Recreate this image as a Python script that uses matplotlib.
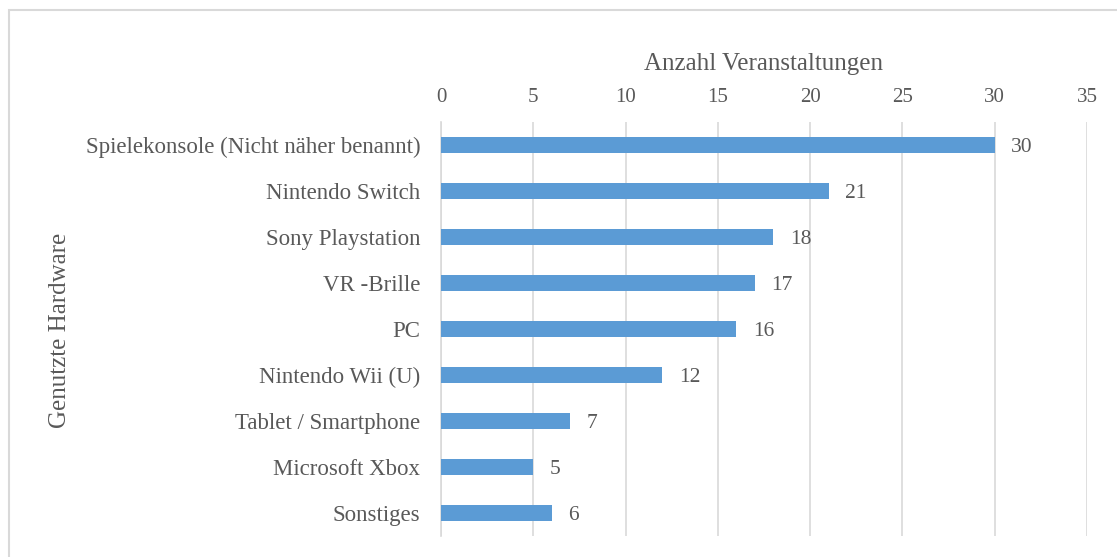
import matplotlib.pyplot as plt
from matplotlib.patches import Rectangle

# data
categories = ['Spielekonsole (Nicht näher benannt)', 'Nintendo Switch', 'Sony Playstation',
              'VR -Brille', 'PC', 'Nintendo Wii (U)', 'Tablet / Smartphone',
              'Microsoft Xbox', 'Sonstiges']
counts = [30, 21, 18, 17, 16, 12, 7, 5, 6]
x_ticks = [0, 5, 10, 15, 20, 25, 30, 35]

text_col = '#595959'
grid_col = '#D9D9D9'
bar_col = '#5B9BD5'

plt.rcParams['font.family'] = ['Liberation Serif', 'DejaVu Serif']

fig = plt.figure(figsize=(11.17, 5.57), dpi=100)
W, H = 1117, 557

# outer chart frame (right/bottom edges run off the image)
fig.patches.append(Rectangle((9 / W, -0.1), 1.2, 1 - 10 / H + 0.1,
                             transform=fig.transFigure, fill=False,
                             edgecolor=grid_col, linewidth=1.5))

# plot area in pixels: x 441..1087, y 122..536
ax = fig.add_axes([441 / W, 1 - 536 / H, (1087 - 441) / W, (536 - 122) / H])

y = list(range(len(categories)))
ax.barh(y, counts, height=0.35, color=bar_col, zorder=3)
ax.set_ylim(len(categories) - 0.5, -0.5)
ax.set_xlim(0, 35)

for yi, v in zip(y, counts):
    ax.text(v + 0.9, yi, str(v), va='center_baseline', ha='left', fontsize=15.5, color=text_col)

ax.xaxis.tick_top()
ax.xaxis.set_label_position('top')
ax.set_xticks(x_ticks)
ax.set_xticklabels([str(t) for t in x_ticks])
ax.set_yticks(y)
ax.set_yticklabels(categories)
ax.tick_params(axis='both', length=0, colors=text_col)
ax.tick_params(axis='x', pad=11, labelsize=15)
ax.tick_params(axis='y', pad=15, labelsize=16.5)

ax.grid(axis='x', color=grid_col, linewidth=1.2, zorder=0)
for s in ['top', 'right', 'bottom']:
    ax.spines[s].set_visible(False)
ax.spines['left'].set_color(grid_col)
ax.spines['left'].set_linewidth(1.2)

ax.set_xlabel('Anzahl Veranstaltungen', fontsize=18, color=text_col, labelpad=13)
fig.text(60 / W, 1 - 330 / H, 'Genutzte Hardware', rotation=90, fontsize=18,
         color=text_col, ha='center', va='center')

fig.savefig('out.png', dpi=100, facecolor='white')
